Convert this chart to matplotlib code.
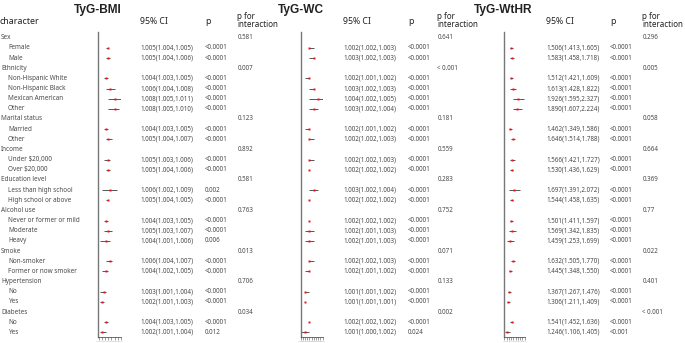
import matplotlib
matplotlib.use("Agg")
import matplotlib.pyplot as plt
from matplotlib.ticker import MaxNLocator

plt.rcParams['font.family'] = ['Noto Sans', 'DejaVu Sans']

# ---- data ----
groups = ["Sex", "Ethnicity", "Marital status", "Income", "Education level",
          "Alcohol use", "Smoke", "Hypertension", "Diabetes"]
subgroups = [["Female", "Male"],
             ["Non-Hispanic White", "Non-Hispanic Black", "Mexican American", "Other"],
             ["Married", "Other"],
             ["Under $20,000", "Over $20,000"],
             ["Less than high school", "High school or above"],
             ["Never or former or mild", "Moderate", "Heavy"],
             ["Non-smoker", "Former or now smoker"],
             ["No", "Yes"],
             ["No", "Yes"]]

bmi_or = [1.005, 1.005, 1.004, 1.006, 1.008, 1.008, 1.004, 1.005, 1.005, 1.005, 1.006,
          1.005, 1.004, 1.005, 1.004, 1.006, 1.004, 1.003, 1.002, 1.004, 1.002]
bmi_lo = [1.004, 1.004, 1.003, 1.004, 1.005, 1.005, 1.003, 1.004, 1.003, 1.004, 1.002,
          1.004, 1.003, 1.003, 1.001, 1.004, 1.002, 1.001, 1.001, 1.003, 1.001]
bmi_hi = [1.005, 1.006, 1.005, 1.008, 1.011, 1.010, 1.005, 1.007, 1.006, 1.006, 1.009,
          1.005, 1.005, 1.007, 1.006, 1.007, 1.005, 1.004, 1.003, 1.005, 1.004]
bmi_p = ["<0.0001"] * 10 + ["0.002"] + ["<0.0001"] * 3 + ["0.006"] + ["<0.0001"] * 5 + ["0.012"]
bmi_pint = ["0.581", "0.007", "0.123", "0.892", "0.581", "0.763", "0.013", "0.706", "0.034"]

wc_or = [1.002, 1.003, 1.002, 1.003, 1.004, 1.003, 1.002, 1.002, 1.002, 1.002, 1.003,
         1.002, 1.002, 1.002, 1.002, 1.002, 1.002, 1.001, 1.001, 1.002, 1.001]
wc_lo = [1.002, 1.002, 1.001, 1.002, 1.002, 1.002, 1.001, 1.002, 1.002, 1.002, 1.002,
         1.002, 1.002, 1.001, 1.001, 1.002, 1.001, 1.001, 1.001, 1.002, 1.000]
wc_hi = [1.003, 1.003, 1.002, 1.003, 1.005, 1.004, 1.002, 1.003, 1.003, 1.002, 1.004,
         1.002, 1.002, 1.003, 1.003, 1.003, 1.002, 1.002, 1.001, 1.002, 1.002]
wc_p = ["<0.0001"] * 20 + ["0.024"]
wc_pint = ["0.641", "< 0.001", "0.181", "0.559", "0.283", "0.752", "0.071", "0.133", "0.002"]

wthr_or = [1.506, 1.583, 1.512, 1.613, 1.926, 1.890, 1.462, 1.646, 1.566, 1.530, 1.697,
           1.544, 1.501, 1.569, 1.459, 1.632, 1.445, 1.367, 1.306, 1.541, 1.246]
wthr_lo = [1.413, 1.458, 1.421, 1.428, 1.595, 1.607, 1.349, 1.514, 1.421, 1.436, 1.391,
           1.458, 1.411, 1.342, 1.253, 1.505, 1.348, 1.267, 1.211, 1.452, 1.106]
wthr_hi = [1.605, 1.718, 1.609, 1.822, 2.327, 2.224, 1.586, 1.788, 1.727, 1.629, 2.072,
           1.635, 1.597, 1.835, 1.699, 1.770, 1.550, 1.476, 1.409, 1.636, 1.405]
wthr_p = ["<0.0001"] * 20 + ["<0.001"]
wthr_pint = ["0.296", "0.005", "0.058", "0.664", "0.369", "0.77", "0.022", "0.401", "< 0.001"]

panels = [
    ("TyG-BMI", bmi_or, bmi_lo, bmi_hi, bmi_p, bmi_pint, (1.000, 1.011)),
    ("TyG-WC", wc_or, wc_lo, wc_hi, wc_p, wc_pint, (1.000, 1.005)),
    ("TyG-WtHR", wthr_or, wthr_lo, wthr_hi, wthr_p, wthr_pint, (1.0, 2.4)),
]

# ---- layout (pixel units, origin top-left) ----
W, H = 685, 343
row0, dy = 37.7, 10.16
plot_left = [98, 300.5, 503.5]
plot_w = [22.7, 22.2, 21.2]
ci_x = [140, 343, 546]
p_x = [205, 408, 610]
pint_x = [237.5, 437.5, 642.5]
axis_top, axis_bot = 32, 337

txt = '#4a4a4a'
dark = '#222222'

fig = plt.figure(figsize=(W / 100, H / 100), dpi=100)
bg = fig.add_axes([0, 0, 1, 1])
bg.set_xlim(0, W)
bg.set_ylim(H, 0)
bg.axis('off')

# row positions
group_rows = []
sub_rows = []
r = 0
for g, subs in zip(groups, subgroups):
    group_rows.append(row0 + r * dy)
    r += 1
    rows = []
    for s in subs:
        rows.append(row0 + r * dy)
        r += 1
    sub_rows.append(rows)
all_sub_rows = [y for rows in sub_rows for y in rows]

# left labels
bg.text(0, 21, "character", fontsize=6.4, color=dark, va='center', ha='left')
for g, y0, subs, rows in zip(groups, group_rows, subgroups, sub_rows):
    bg.text(1, y0, g, fontsize=4.6, color=txt, va='center', ha='left')
    for s, y in zip(subs, rows):
        bg.text(8, y, s, fontsize=4.6, color=txt, va='center', ha='left')

for k, (title, orv, lo, hi, pv, pint, xl) in enumerate(panels):
    bg.text(plot_left[k], 9.5, title, fontsize=8.6, fontweight='bold', color=dark,
            ha='center', va='center', family=['Liberation Sans', 'DejaVu Sans'])
    bg.text(ci_x[k], 21, "95% CI", fontsize=6.3, color=dark, va='center', ha='left')
    bg.text(p_x[k], 22, "p", fontsize=6.3, color=dark, va='center', ha='left')
    bg.text(pint_x[k], 20.5, "p for\ninteraction", fontsize=5.8, color=dark,
            va='center', ha='left', linespacing=0.8)

    for y, o, l, h, p in zip(all_sub_rows, orv, lo, hi, pv):
        bg.text(ci_x[k], y, f"{o:.3f}({l:.3f},{h:.3f})", fontsize=4.5, color=txt,
                va='center', ha='left')
        bg.text(p_x[k], y, p, fontsize=4.5, color=txt, va='center', ha='left')
    for y, p in zip(group_rows, pint):
        bg.text(pint_x[k], y, p, fontsize=4.5, color=txt, va='center', ha='left')

    ax = fig.add_axes([plot_left[k] / W, (H - axis_bot) / H,
                       plot_w[k] / W, (axis_bot - axis_top) / H])
    ax.set_xlim(*xl)
    ax.set_ylim(axis_bot, axis_top)
    ax.hlines(all_sub_rows, lo, hi, color='#555555', lw=0.7)
    ax.plot(orv, all_sub_rows, 's', color='#e8141c', markersize=2.1, mec='none')
    for side in ['top', 'right']:
        ax.spines[side].set_visible(False)
    ax.spines['left'].set_color('#777777')
    ax.spines['left'].set_linewidth(1.0)
    ax.spines['bottom'].set_color('#555555')
    ax.spines['bottom'].set_linewidth(0.6)
    ax.set_yticks([])
    ax.xaxis.set_major_locator(MaxNLocator(10))
    ax.tick_params(axis='x', length=2.2, width=0.4, color='#555555',
                   labelsize=1.2, labelcolor='#999999', pad=0.8)
    ax.patch.set_alpha(0)

fig.savefig("out.png", dpi=100)
